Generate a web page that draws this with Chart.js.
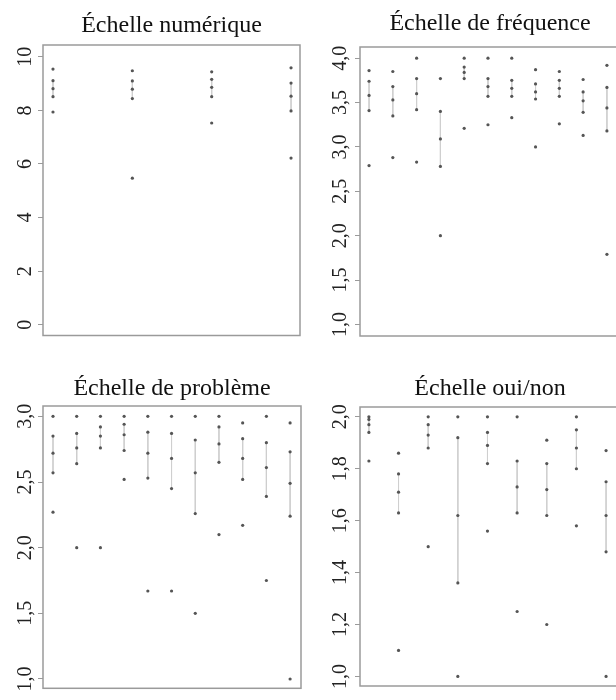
<!DOCTYPE html>
<html>
<head>
<meta charset="utf-8">
<script src="https://cdn.jsdelivr.net/npm/chart.js@4/dist/chart.umd.min.js"></script>
<style>
  html, body { margin: 0; padding: 0; background: #fff; }
  body { width: 616px; height: 700px; overflow: hidden; position: relative; }
  canvas { position: absolute; }
</style>
</head>
<body>
<canvas id="c1" width="308" height="350" style="left:0;top:0"></canvas>
<canvas id="c2" width="316" height="350" style="left:308px;top:0"></canvas>
<canvas id="c3" width="308" height="340" style="left:0;top:360px"></canvas>
<canvas id="c4" width="316" height="340" style="left:308px;top:360px"></canvas>
<script>
// Échelle numérique (4 items)
const numMax = [9.54, 9.48, 9.44, 9.59];
const numQ3  = [9.11, 9.10, 9.16, 9.02];
const numMed = [8.81, 8.79, 8.86, 8.53];
const numQ1  = [8.51, 8.44, 8.51, 7.98];
const numMin = [7.94, 5.47, 7.53, 6.22];
const numTicks = [0, 2, 4, 6, 8, 10];

// Échelle de fréquence (11 items)
const freqMax = [3.86, 3.85, 4.00, 3.77, 4.00, 4.00, 4.00, 3.87, 3.85, 3.76, 3.92];
const freqQ3  = [3.74, 3.68, 3.77, 3.40, 3.90, 3.77, 3.75, 3.71, 3.75, 3.62, 3.67];
const freqMed = [3.58, 3.53, 3.60, 3.09, 3.84, 3.68, 3.66, 3.62, 3.66, 3.52, 3.44];
const freqQ1  = [3.41, 3.35, 3.42, 2.78, 3.77, 3.57, 3.57, 3.54, 3.57, 3.39, 3.18];
const freqMin = [2.79, 2.88, 2.83, 2.00, 3.21, 3.25, 3.33, 3.00, 3.26, 3.13, 1.79];
const freqTicks = [1.0, 1.5, 2.0, 2.5, 3.0, 3.5, 4.0];

// Échelle de problème (11 items)
const probMax = [3.00, 3.00, 3.00, 3.00, 3.00, 3.00, 3.00, 3.00, 2.95, 3.00, 2.95];
const probQ3  = [2.85, 2.87, 2.92, 2.94, 2.88, 2.87, 2.82, 2.92, 2.83, 2.80, 2.73];
const probMed = [2.72, 2.76, 2.85, 2.86, 2.72, 2.68, 2.57, 2.79, 2.68, 2.61, 2.49];
const probQ1  = [2.57, 2.64, 2.76, 2.74, 2.53, 2.45, 2.26, 2.65, 2.52, 2.39, 2.24];
const probMin = [2.27, 2.00, 2.00, 2.52, 1.67, 1.67, 1.50, 2.10, 2.17, 1.75, 1.00];
const probTicks = [1.0, 1.5, 2.0, 2.5, 3.0];

// Échelle oui/non (9 items)
const ouiMax = [2.00, 1.86, 2.00, 2.00, 2.00, 2.00, 1.91, 2.00, 1.87];
const ouiQ3  = [1.99, 1.78, 1.97, 1.92, 1.94, 1.83, 1.82, 1.95, 1.75];
const ouiMed = [1.97, 1.71, 1.93, 1.62, 1.89, 1.73, 1.72, 1.88, 1.62];
const ouiQ1  = [1.94, 1.63, 1.88, 1.36, 1.82, 1.63, 1.62, 1.80, 1.48];
const ouiMin = [1.83, 1.10, 1.50, 1.00, 1.56, 1.25, 1.20, 1.58, 1.00];
const ouiTicks = [1.0, 1.2, 1.4, 1.6, 1.8, 2.0];

const serif = "'Liberation Serif', 'Times New Roman', serif";

const boxPlugin = {
    id: 'box',
    afterDraw(chart) {
        const a = chart.chartArea;
        const ctx = chart.ctx;
        ctx.save();
        ctx.strokeStyle = '#9a9a9a';
        ctx.lineWidth = 1.5;
        ctx.strokeRect(a.left, a.top, a.right - a.left, a.bottom - a.top);
        ctx.restore();
    }
};

function dotChart(id, cfg){
    const n = cfg.max.length;
    let points = [];
    let datasets = [];
    for (let i = 0; i < n; i++) {
        const x = i + 1;
        [cfg.max, cfg.q3, cfg.med, cfg.q1, cfg.min].forEach(arr => points.push({x: x, y: arr[i]}));
        // light line between the 2nd and 4th dot of each column
        datasets.push({
            type: 'line',
            data: [{x: x, y: cfg.q3[i]}, {x: x, y: cfg.q1[i]}],
            borderColor: '#cfcfcf',
            borderWidth: 1,
            pointRadius: 0,
            order: 2
        });
    }
    datasets.push({
        type: 'scatter',
        data: points,
        pointRadius: 1.6,
        pointBackgroundColor: '#555',
        pointBorderWidth: 0,
        order: 1
    });

    const config = {
        type: 'scatter',
        data: {datasets: datasets},
        options: {
            responsive: false,
            animation: false,
            events: [],
            layout: {padding: {left: 0, right: cfg.padRight, top: 0, bottom: cfg.padBottom}},
            plugins: {
                legend: {display: false},
                tooltip: {enabled: false},
                title: {
                    display: true,
                    fullSize: false,
                    text: cfg.title,
                    color: '#111',
                    font: {family: serif, size: 24, weight: 'normal', lineHeight: 1.2},
                    padding: {top: cfg.titleTop, bottom: cfg.titleBottom}
                }
            },
            scales: {
                x: {
                    type: 'linear',
                    display: false,
                    min: cfg.xMin,
                    max: cfg.xMax
                },
                y: {
                    min: cfg.yMin,
                    max: cfg.yMax,
                    afterBuildTicks: s => { s.ticks = cfg.ticks.map(v => ({value: v})); },
                    afterFit: s => { s.width = cfg.axisWidth; },
                    border: {display: false},
                    grid: {drawOnChartArea: false, drawTicks: true, tickLength: 5, tickColor: '#9a9a9a', tickWidth: 1},
                    ticks: {
                        autoSkip: false,
                        minRotation: 90,
                        maxRotation: 90,
                        crossAlign: 'center',
                        padding: cfg.labelPad,
                        color: '#222',
                        font: {family: serif, size: 20},
                        callback: v => cfg.decimals ? v.toFixed(1).replace('.', ',') : String(v)
                    }
                }
            }
        },
        plugins: [boxPlugin]
    };
    let c = document.getElementById(id).getContext("2d");
    new Chart(c, config);
}

dotChart('c1', {
    title: 'Échelle numérique', max: numMax, q3: numQ3, med: numMed, q1: numQ1, min: numMin,
    ticks: numTicks, decimals: false,
    xMin: 0.874, xMax: 4.113, yMin: -0.40, yMax: 10.44,
    axisWidth: 43, padRight: 8, padBottom: 12, titleTop: 11.1, titleBottom: 5.1, labelPad: 2.5
});
dotChart('c2', {
    title: 'Échelle de fréquence', max: freqMax, q3: freqQ3, med: freqMed, q1: freqQ1, min: freqMin,
    ticks: freqTicks, decimals: true,
    xMin: 0.62, xMax: 11.55, yMin: 0.87, yMax: 4.126,
    axisWidth: 52, padRight: 4, padBottom: 10, titleTop: 9.4, titleBottom: 8.8, labelPad: 2
});
dotChart('c3', {
    title: 'Échelle de problème', max: probMax, q3: probQ3, med: probMed, q1: probQ1, min: probMin,
    ticks: probTicks, decimals: true,
    xMin: 0.578, xMax: 11.46, yMin: 0.929, yMax: 3.079,
    axisWidth: 43, padRight: 7, padBottom: 2, titleTop: 14.4, titleBottom: 2.8, labelPad: -0.3
});
dotChart('c4', {
    title: 'Échelle oui/non', max: ouiMax, q3: ouiQ3, med: ouiMed, q1: ouiQ1, min: ouiMin,
    ticks: ouiTicks, decimals: true,
    xMin: 0.70, xMax: 9.47, yMin: 0.963, yMax: 2.038,
    axisWidth: 52, padRight: 4, padBottom: 1, titleTop: 14.4, titleBottom: 3.8, labelPad: 2
});
</script>
</body>
</html>
